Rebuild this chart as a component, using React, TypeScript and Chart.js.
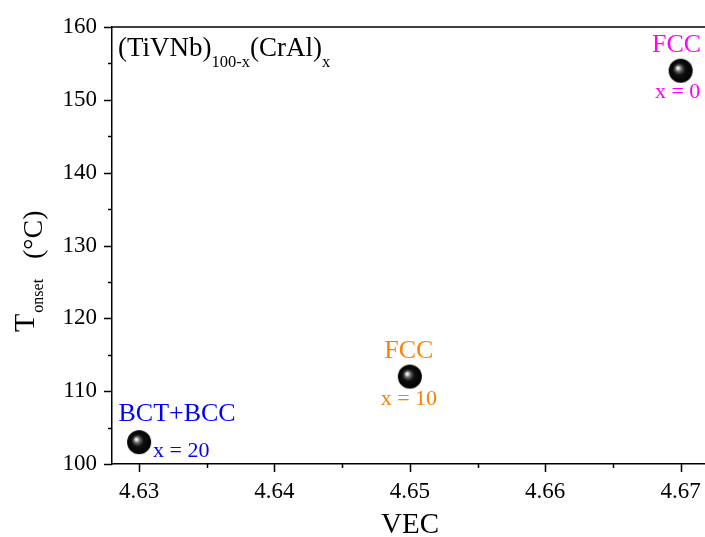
import React, { useEffect, useRef } from 'react';
import { Chart, registerables } from 'chart.js';

Chart.register(...registerables);

// Valence electron concentration vs. transformation onset temperature
const vec = [4.63, 4.65, 4.67];
const tOnset = [103, 112, 154];
const phases = ['BCT+BCC', 'FCC', 'FCC'];
const compositions = ['x = 20', 'x = 10', 'x = 0'];
const labelColors = ['#0000FF', '#FF8000', '#FF00FF'];

const xMajorTicks = [4.63, 4.64, 4.65, 4.66, 4.67];
const xMinorTicks = [4.635, 4.645, 4.655, 4.665];
const yMajorTicks = [100, 110, 120, 130, 140, 150, 160];
const yMinorTicks = [105, 115, 125, 135, 145, 155];

// Label offsets (px) around each marker: phase label above, composition below
const placements = [
  { phase: { dx: 38, dy: -21, align: 'center' }, comp: { dx: 14, dy: 15, align: 'left' } },
  { phase: { dx: -1, dy: -19, align: 'center' }, comp: { dx: -1, dy: 28, align: 'center' } },
  { phase: { dx: -4, dy: -19, align: 'center' }, comp: { dx: -3, dy: 27, align: 'center' } },
];

const SERIF = '"Liberation Serif", "Times New Roman", serif';
const font = (px: number) => `${px}px ${SERIF}`;

function makeSphere(r: number): HTMLCanvasElement {
  const c = document.createElement('canvas');
  const size = r * 2 + 2;
  c.width = size;
  c.height = size;
  const g = c.getContext('2d')!;
  const cx = size / 2;
  const cy = size / 2;
  const grad = g.createRadialGradient(cx - 3, cy - 3, 0, cx, cy, r);
  grad.addColorStop(0, '#ffffff');
  grad.addColorStop(0.1, '#e0e0e0');
  grad.addColorStop(0.26, '#666666');
  grad.addColorStop(0.5, '#101010');
  grad.addColorStop(1, '#000000');
  g.fillStyle = grad;
  g.beginPath();
  g.arc(cx, cy, r, 0, Math.PI * 2);
  g.fill();
  return c;
}

const decorPlugin = {
  id: 'decor',
  afterDraw(chart: any) {
    const { ctx, chartArea: a, scales } = chart;
    const x = scales.x;
    const y = scales.y;
    ctx.save();
    ctx.strokeStyle = '#000';
    ctx.lineWidth = 1.5;

    // top frame line
    ctx.beginPath();
    ctx.moveTo(a.left, a.top);
    ctx.lineTo(a.right, a.top);
    ctx.stroke();

    // outward tick marks
    ctx.beginPath();
    xMajorTicks.forEach((v) => {
      const px = Math.round(x.getPixelForValue(v)) + 0.5;
      ctx.moveTo(px, a.bottom);
      ctx.lineTo(px, a.bottom + 8);
    });
    xMinorTicks.forEach((v) => {
      const px = Math.round(x.getPixelForValue(v)) + 0.5;
      ctx.moveTo(px, a.bottom);
      ctx.lineTo(px, a.bottom + 4);
    });
    yMajorTicks.forEach((v) => {
      const py = Math.round(y.getPixelForValue(v)) + 0.5;
      ctx.moveTo(a.left, py);
      ctx.lineTo(a.left - 8, py);
    });
    yMinorTicks.forEach((v) => {
      const py = Math.round(y.getPixelForValue(v)) + 0.5;
      ctx.moveTo(a.left, py);
      ctx.lineTo(a.left - 4, py);
    });
    ctx.stroke();

    ctx.fillStyle = '#000';
    ctx.textBaseline = 'alphabetic';

    // x tick labels
    ctx.font = font(23);
    ctx.textAlign = 'center';
    xMajorTicks.forEach((v) => {
      ctx.fillText(v.toFixed(2), x.getPixelForValue(v), a.bottom + 34);
    });

    // composition formula in the upper-left corner
    let cx = 118;
    const parts: [string, number, number][] = [
      ['(TiVNb)', 27, 56],
      ['100-x', 16.5, 67],
      ['(CrAl)', 27, 56],
      ['x', 16.5, 67],
    ];
    ctx.textAlign = 'left';
    parts.forEach(([t, s, b]) => {
      ctx.font = font(s);
      ctx.fillText(t, cx, b);
      cx += ctx.measureText(t).width;
    });

    // x-axis title
    ctx.font = font(29);
    ctx.textAlign = 'center';
    ctx.fillText('VEC', 410, 533);

    // y-axis title, rotated
    ctx.save();
    ctx.translate(0, 332);
    ctx.rotate(-Math.PI / 2);
    ctx.textAlign = 'left';
    ctx.font = font(30);
    ctx.fillText('T', 0, 34);
    const wT = ctx.measureText('T').width;
    ctx.font = font(16);
    ctx.fillText('onset', wT + 1, 43);
    ctx.font = font(28);
    ctx.fillText('(\u00B0C)', 73, 42);
    ctx.restore();

    // phase and composition labels at each marker
    vec.forEach((v, i) => {
      const px = x.getPixelForValue(v);
      const py = y.getPixelForValue(tOnset[i]);
      const p = placements[i];
      ctx.fillStyle = labelColors[i];
      ctx.font = font(26);
      ctx.textAlign = p.phase.align as CanvasTextAlign;
      ctx.fillText(phases[i], px + p.phase.dx, py + p.phase.dy);
      ctx.font = font(22);
      ctx.textAlign = p.comp.align as CanvasTextAlign;
      ctx.fillText(compositions[i], px + p.comp.dx, py + p.comp.dy);
    });

    ctx.restore();
  },
};

export default function App() {
  const ref = useRef<HTMLCanvasElement>(null);

  useEffect(() => {
    const sphere = makeSphere(12);
    const tickFont = { family: SERIF, size: 23 };
    const chart = new Chart(ref.current!, {
      type: 'scatter',
      data: {
        datasets: [
          {
            data: vec.map((v, i) => ({ x: v, y: tOnset[i] })),
            pointStyle: sphere as any,
            pointRadius: 12,
            showLine: false,
          },
        ],
      },
      options: {
        responsive: false,
        animation: false,
        devicePixelRatio: 1,
        layout: { autoPadding: false, padding: { top: 27, left: 0, right: 0, bottom: 0 } },
        plugins: { legend: { display: false }, tooltip: { enabled: false } },
        scales: {
          x: {
            type: 'linear',
            min: 4.628,
            max: 4.6718,
            afterFit: (s: any) => {
              s.height = 73;
              s.paddingLeft = 0;
              s.paddingRight = 0;
            },
            afterBuildTicks: (s: any) => {
              s.ticks = xMajorTicks.map((v) => ({ value: v }));
            },
            ticks: { display: false },
            grid: { display: false },
            border: { display: true, color: '#000', width: 1.5 },
          },
          y: {
            type: 'linear',
            min: 100,
            max: 160,
            afterFit: (s: any) => {
              s.width = 112;
              s.paddingTop = 0;
              s.paddingBottom = 0;
            },
            afterBuildTicks: (s: any) => {
              s.ticks = yMajorTicks.map((v) => ({ value: v }));
            },
            ticks: {
              autoSkip: false,
              padding: 7,
              color: '#000',
              font: tickFont,
              callback: (v: any) => String(v),
            },
            grid: {
              display: true,
              drawOnChartArea: false,
              drawTicks: true,
              tickLength: 8,
              tickColor: 'rgba(0,0,0,0)',
            },
            border: { display: true, color: '#000', width: 1.5 },
          },
        },
      },
      plugins: [decorPlugin],
    });
    return () => chart.destroy();
  }, []);

  return (
    <div style={{ position: 'absolute', left: 0, top: 0, width: 705, height: 537, background: '#fff' }}>
      <canvas ref={ref} width={705} height={537} style={{ display: 'block', width: 705, height: 537 }} />
    </div>
  );
}
